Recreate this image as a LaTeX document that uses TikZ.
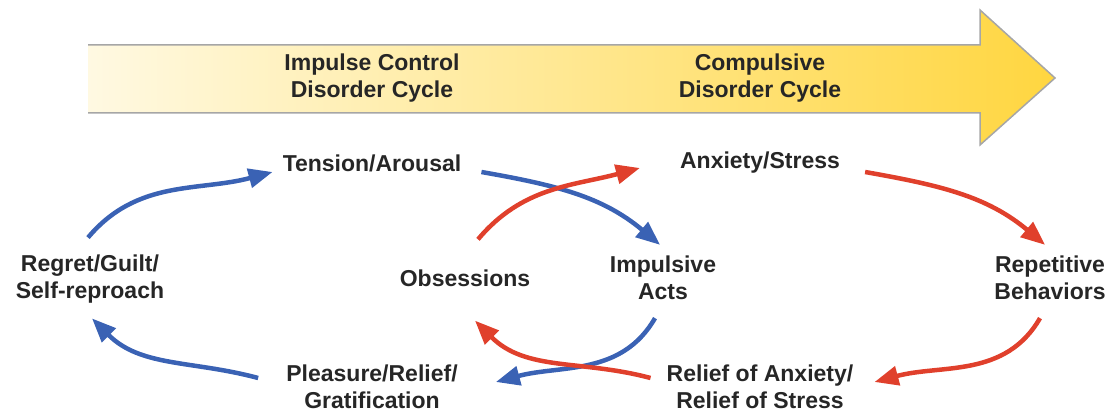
\documentclass[tikz,border=0pt]{standalone}
\usepackage{fontspec}
\setmainfont{Liberation Sans}
\usetikzlibrary{arrows.meta}
\definecolor{cblue}{HTML}{3A62B4}
\definecolor{cred}{HTML}{E0402C}
\definecolor{ylight}{HTML}{FFF9E2}
\definecolor{ydark}{HTML}{FFD640}
\definecolor{ink}{HTML}{262626}
\begin{document}
\begin{tikzpicture}[x=1pt,y=1pt,
  lbl/.style={font=\fontsize{23}{27}\selectfont\bfseries, text=ink, align=center, inner sep=0pt},
  cyc/.style={line width=4.5pt, -{Triangle[length=24pt,width=19pt]}},
  bcyc/.style={cyc, draw=cblue},
  rcyc/.style={cyc, draw=cred}]
\useasboundingbox (0,0) rectangle (1110,415);
% big arrow
\shade[left color=ylight, right color=ydark]
  (88,370) -- (980,370) -- (980,405) -- (1055,337) -- (980,270) -- (980,302) -- (88,302) -- cycle;
\draw[black!35, line width=1.5pt] (88,370) -- (980,370) -- (980,405) -- (1055,337) -- (980,270) -- (980,302) -- (88,302);
\node[lbl] (icd) at (372,337) {Impulse Control\\Disorder Cycle};
\node[lbl] (cdc) at (760,337) {Compulsive\\Disorder Cycle};
% cycle nodes
\node[lbl] (ten) at (372,252) {Tension/Arousal};
\node[lbl] (anx) at (760,252) {Anxiety/Stress};
\node[lbl] (reg) at (90,136) {Regret/Guilt/\\Self-reproach};
\node[lbl] (obs) at (465,137) {Obsessions};
\node[lbl] (imp) at (663,137) {Impulsive\\Acts};
\node[lbl] (rep) at (1050,137) {Repetitive\\Behaviors};
\node[lbl] (ple) at (372,28) {Pleasure/Relief/\\Gratification};
\node[lbl] (rel) at (760,28) {Relief of Anxiety/\\Relief of Stress};
% blue cycle
\draw[bcyc] ([shift={(-2,17)}]reg.north) to[out=50,in=195] ([shift={(-10,-9)}]ten.west);
\draw[bcyc] ([shift={(20,-9)}]ten.east) to[out=-10,in=140] ([shift={(-3,11)}]imp.north);
\draw[bcyc] ([shift={(-8,-18)}]imp.south) to[out=240,in=15] ([shift={(38,5)}]ple.east);
\draw[bcyc] ([shift={(-28,9)}]ple.west) to[out=165,in=-45] ([shift={(2,-15)}]reg.south);
% red cycle
\draw[rcyc] ([shift={(13,30)}]obs.north) to[out=50,in=195] ([shift={(-40,-5)}]anx.west);
\draw[rcyc] ([shift={(25,-9)}]anx.east) to[out=-10,in=140] ([shift={(-5,11)}]rep.north);
\draw[rcyc] ([shift={(-10,-18)}]rep.south) to[out=240,in=15] ([shift={(21,5)}]rel.east);
\draw[rcyc] ([shift={(-16,9)}]rel.west) to[out=165,in=-45] ([shift={(10,-34)}]obs.south);
\end{tikzpicture}
\end{document}
